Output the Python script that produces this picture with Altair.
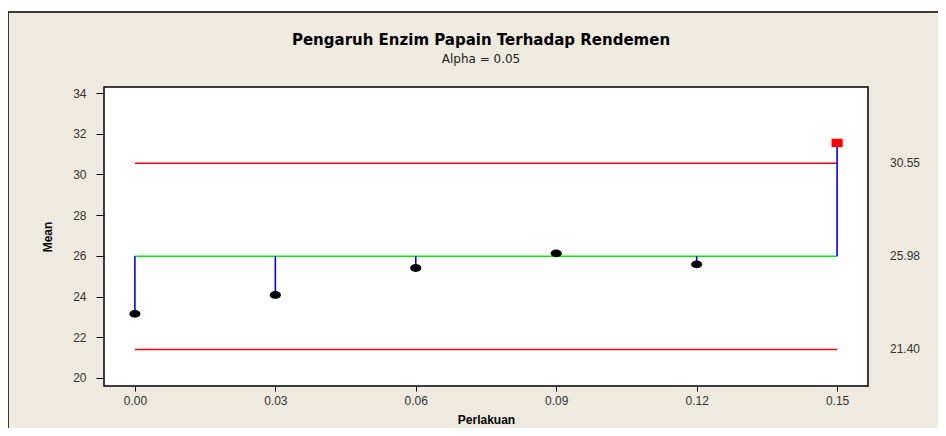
import altair as alt
import pandas as pd

# ---- data ----
perlakuan = [0.00, 0.03, 0.06, 0.09, 0.12, 0.15]
means = [23.15, 24.08, 25.40, 26.12, 25.58, 31.55]
status = ["in", "in", "in", "in", "in", "out"]
center = 25.98
upper = 30.55
lower = 21.40
limit_values = [upper, center, lower]
limit_labels = ["30.55", "25.98", "21.40"]
y_ticks = [20, 22, 24, 26, 28, 30, 32, 34]
title_text = "Pengaruh Enzim Papain Terhadap Rendemen"
subtitle_text = "Alpha = 0.05"

# ---- layout ----
W, H = 764, 299
PL, PT, PR, PB = 96, 79, 70, 42
BEIGE = "#EEEAE0"
FONT = "Liberation Sans"
TFONT = "DejaVu Sans"

df = pd.DataFrame({"perlakuan": perlakuan, "mean": means,
                   "center": [center] * len(perlakuan), "status": status})
df_lim = pd.DataFrame({"y": limit_values, "label": limit_labels})
df_red = pd.DataFrame({"y": [upper, lower], "x0": [perlakuan[0]] * 2, "x1": [perlakuan[-1]] * 2})
df_cen = pd.DataFrame({"y": [center], "x0": [perlakuan[0]], "x1": [perlakuan[-1]]})

x_scale = alt.Scale(domain=[-0.0066, 0.1566], nice=False, zero=False)
y_scale = alt.Scale(domain=[19.6, 34.3], nice=False, zero=False)

x_axis = alt.Axis(values=perlakuan, format=".2f", title="Perlakuan", zindex=2,
                  domain=False, grid=False, tickColor="black", tickSize=5,
                  labelFontSize=12, labelColor="#333", labelFont=FONT, labelPadding=4,
                  titleFontSize=12, titleFont=FONT, titleFontWeight="bold",
                  titleColor="black", titlePadding=8)
y_axis = alt.Axis(values=y_ticks, format="d", title="Mean", zindex=2,
                  domain=False, grid=False, tickColor="black", tickSize=8,
                  labelFontSize=12, labelColor="#333", labelFont=FONT, labelPadding=10,
                  titleFontSize=12, titleFont=FONT, titleFontWeight="bold",
                  titleColor="black", titlePadding=18)

one = alt.Data(values=[{}])

bg = alt.Chart(one).mark_rect(fill=BEIGE, stroke="black", strokeWidth=1.5).encode(
    x=alt.value(-PL), x2=alt.value(W + PR + 6),
    y=alt.value(-(PT - 4)), y2=alt.value(H + PB + 6))

plot_bg = alt.Chart(one).mark_rect(fill="white", stroke="black", strokeWidth=1.5).encode(
    x=alt.value(0), x2=alt.value(W), y=alt.value(0), y2=alt.value(H))

title = alt.Chart(one).mark_text(text=title_text, fontSize=15, fontWeight="bold", font=TFONT,
                                 color="black", align="center", baseline="middle").encode(
    x=alt.value(W / 2 - 5), y=alt.value(32 - PT))
subtitle = alt.Chart(one).mark_text(text=subtitle_text, fontSize=12, font=TFONT,
                                    color="#222", align="center", baseline="middle").encode(
    x=alt.value(W / 2 - 5), y=alt.value(51 - PT))

red_lines = alt.Chart(df_red).mark_rule(strokeWidth=1.5, color="#FF0000", opacity=1).encode(
    x=alt.X("x0:Q", scale=x_scale, axis=x_axis),
    x2="x1:Q",
    y=alt.Y("y:Q", scale=y_scale, axis=y_axis))

center_line = alt.Chart(df_cen).mark_rule(strokeWidth=1.5, color="#00EE00").encode(
    x=alt.X("x0:Q", scale=x_scale, axis=x_axis),
    x2="x1:Q",
    y=alt.Y("y:Q", scale=y_scale, axis=y_axis))

stems = alt.Chart(df).mark_rule(color="#0000FF", strokeWidth=1.6).encode(
    x=alt.X("perlakuan:Q", scale=x_scale, axis=x_axis),
    y=alt.Y("mean:Q", scale=y_scale, axis=y_axis),
    y2="center:Q")

ellipse = "M -1 0 A 1 0.7 0 1 0 1 0 A 1 0.7 0 1 0 -1 0 Z"
box = "M -1 -0.75 H 1 V 0.75 H -1 Z"
points = alt.Chart(df).mark_point(filled=True, opacity=1).encode(
    x=alt.X("perlakuan:Q", scale=x_scale, axis=x_axis),
    y=alt.Y("mean:Q", scale=y_scale, axis=y_axis),
    shape=alt.Shape("status:N", scale=alt.Scale(domain=["in", "out"], range=[ellipse, box]),
                    legend=None),
    color=alt.Color("status:N", scale=alt.Scale(domain=["in", "out"], range=["black", "#FF0000"]),
                    legend=None),
    size=alt.value(125))

right_labels = alt.Chart(df_lim).mark_text(align="left", baseline="middle", fontSize=12,
                                           font=FONT, color="#333").encode(
    x=alt.value(W + 22),
    y=alt.Y("y:Q", scale=y_scale, axis=y_axis),
    text="label:N")

chart = alt.layer(bg, plot_bg, title, subtitle, red_lines, center_line, stems, points,
                  right_labels).resolve_scale(
    color="independent", shape="independent"
).properties(
    width=W, height=H,
    autosize=alt.AutoSizeParams(type="none"),
    padding={"left": PL, "top": PT, "right": PR, "bottom": PB},
).configure(background="white").configure_view(stroke=None)

chart.save("out.html", embed_options={"renderer": "svg", "actions": False})
